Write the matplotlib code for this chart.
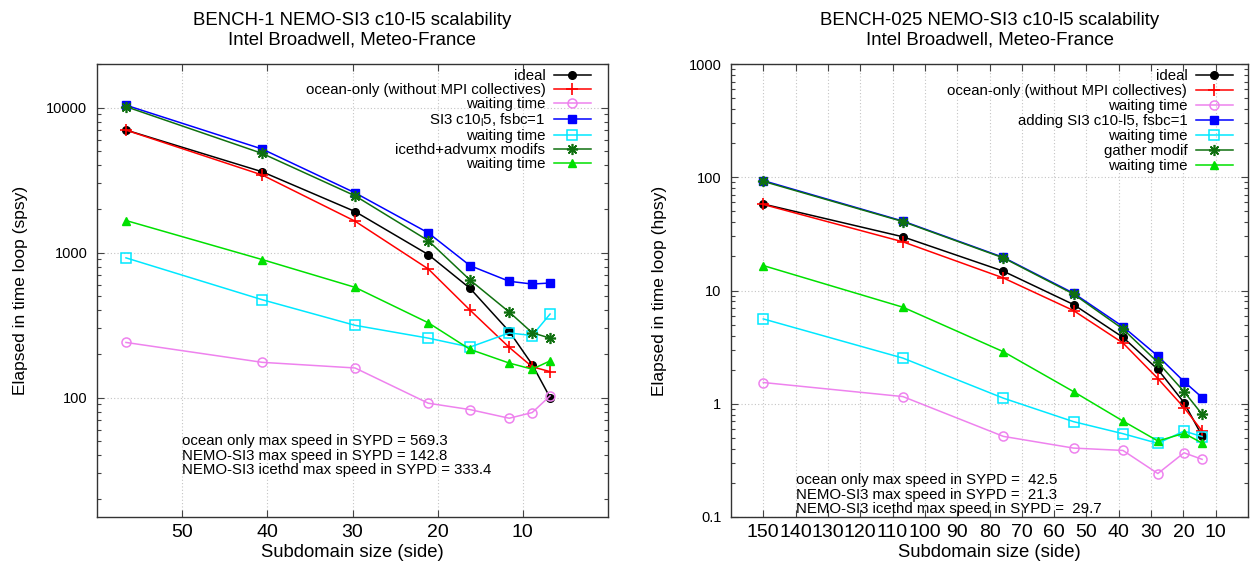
import matplotlib
matplotlib.use('Agg')
import matplotlib.pyplot as plt
from matplotlib.ticker import FixedLocator, FixedFormatter, LogLocator, NullFormatter

plt.rcParams['font.family'] = ['Liberation Sans', 'DejaVu Sans']
plt.rcParams['mathtext.fontset'] = 'custom'
plt.rcParams['mathtext.rm'] = 'Liberation Sans'

# ---------------- data: BENCH-1 (left) ----------------
b1_side = [56.6, 40.6, 29.7, 21.1, 16.2, 11.6, 8.9, 6.8]
b1_ideal = [7010, 3610, 1920, 969, 567, 286, 169, 100]
b1_ocean = [7000, 3430, 1647, 771, 401, 222, 163, 151]
b1_ocean_wait = [240, 175, 160, 91.4, 82.6, 72, 78.8, 102.7]
b1_si3 = [10400, 5180, 2585, 1368, 813, 634, 607, 617]
b1_si3_wait = [920, 473, 315, 257, 223, 279, 268, 377]
b1_icethd = [10160, 4830, 2465, 1209, 647, 389, 280, 257]
b1_icethd_wait = [1665, 895, 576, 328, 215, 173, 157, 179]
b1_labels = ["ideal", "ocean-only (without MPI collectives)", "waiting time",
             "SI3 c10$_\\mathregular{l}$5, fsbc=1", "waiting time",
             "icethd+advumx modifs", "waiting time"]
b1_xticks = [50, 40, 30, 20, 10]
b1_yticks = [100, 1000, 10000]
b1_yticklabels = ["100", "1000", "10000"]
b1_text = ["ocean only max speed in SYPD = 569.3",
           "NEMO-SI3 max speed in SYPD = 142.8",
           "NEMO-SI3 icethd max speed in SYPD = 333.4"]

# ---------------- data: BENCH-025 (right) ----------------
b025_side = [150, 106.8, 75.7, 54, 38.7, 27.9, 19.8, 14.2]
b025_ideal = [58.0, 29.8, 14.8, 7.52, 3.86, 2.01, 1.024, 0.519]
b025_ocean = [57.5, 26.9, 12.9, 6.65, 3.44, 1.67, 0.925, 0.574]
b025_ocean_wait = [1.54, 1.157, 0.515, 0.406, 0.387, 0.242, 0.369, 0.323]
b025_si3 = [93.4, 41.0, 19.6, 9.47, 4.80, 2.64, 1.57, 1.135]
b025_si3_wait = [5.61, 2.53, 1.12, 0.695, 0.544, 0.447, 0.574, 0.513]
b025_gather = [92.0, 40.6, 19.4, 9.3, 4.57, 2.32, 1.28, 0.807]
b025_gather_wait = [16.6, 7.12, 2.88, 1.28, 0.704, 0.469, 0.548, 0.45]
b025_labels = ["ideal", "ocean-only (without MPI collectives)", "waiting time",
               "adding SI3 c10-l5, fsbc=1", "waiting time",
               "gather modif", "waiting time"]
b025_xticks = [150, 140, 130, 120, 110, 100, 90, 80, 70, 60, 50, 40, 30, 20, 10]
b025_yticks = [0.1, 1, 10, 100, 1000]
b025_yticklabels = ["0.1", "1", "10", "100", "1000"]
b025_text = ["ocean only max speed in SYPD =  42.5",
             "NEMO-SI3 max speed in SYPD =  21.3",
             "NEMO-SI3 icethd max speed in SYPD =  29.7"]

# ---------------- styles ----------------
DKGREEN = '#0f700f'
LTGREEN = '#00e000'
styles = [
    dict(color='black', marker='o', ms=5.5, mfc='black', mec='black'),
    dict(color='red', marker='+', ms=8.5, mew=1.2),
    dict(color='#ee82ee', marker='o', ms=6.5, mfc='none', mew=1.1),
    dict(color='blue', marker='s', ms=5.5, mfc='blue', mec='blue'),
    dict(color='#00e8ff', marker='s', ms=6.5, mfc='none', mew=1.1),
    dict(color=DKGREEN, marker=(8, 2, 0), ms=8, mew=1.2),
    dict(color=LTGREEN, marker='^', ms=6, mfc=LTGREEN, mec=LTGREEN),
]

fig = plt.figure(figsize=(12.5, 5.62), dpi=100)
W, H = 1250.0, 562.0
ax1 = fig.add_axes([97 / W, 1 - 517 / H, (608 - 97) / W, (517 - 64) / H])
ax2 = fig.add_axes([731 / W, 1 - 517 / H, (1248 - 731) / W, (517 - 64) / H])


def setup(ax, side, series, labels, xlim, ylim, xticks, yticks, yticklabels,
          title, ylabel, texts, text_xy, ylab_x, leg_x, leg_sp):
    for ys, st, lab in zip(series, styles, labels):
        ax.plot(side, ys, lw=1.1, label=lab, **st)
    ax.set_yscale('log')
    ax.set_xlim(*xlim)
    ax.set_ylim(*ylim)
    ax.xaxis.set_major_locator(FixedLocator(xticks))
    ax.xaxis.set_major_formatter(FixedFormatter([str(v) for v in xticks]))
    ax.yaxis.set_major_locator(FixedLocator(yticks))
    ax.yaxis.set_major_formatter(FixedFormatter(yticklabels))
    ax.yaxis.set_minor_locator(LogLocator(base=10, subs=range(2, 10)))
    ax.yaxis.set_minor_formatter(NullFormatter())
    ax.grid(True, which='major', color='#c4c4c4', linestyle=(0, (1, 2)), lw=0.8)
    ax.tick_params(which='both', direction='in', top=True, right=True,
                   color='#444444', width=0.8)
    ax.tick_params(which='major', length=5)
    ax.tick_params(which='minor', length=2.8)
    ax.tick_params(axis='x', which='major', labelsize=14, pad=5)
    ax.tick_params(axis='y', which='major', labelsize=10.5, pad=7)
    for sp in ax.spines.values():
        sp.set_color('#333333')
        sp.set_linewidth(1.0)
    ax.set_title(title, fontsize=13.4, pad=14, linespacing=1.2)
    ax.set_xlabel('Subdomain size (side)', fontsize=13.3, labelpad=2)
    ax.set_ylabel(ylabel, fontsize=12.5)
    ax.yaxis.set_label_coords(ylab_x, 0.5)
    ax.text(text_xy[0], text_xy[1], "\n".join(texts), fontsize=10.8,
            ha='left', va='center', linespacing=1.05, zorder=5)
    leg = ax.legend(loc='upper right', bbox_to_anchor=(leg_x, 0.988),
                    frameon=False, markerfirst=False, fontsize=10.8,
                    handlelength=2.5, handletextpad=0.55, labelspacing=leg_sp,
                    borderpad=0, borderaxespad=0)
    return leg


setup(ax1, b1_side,
      [b1_ideal, b1_ocean, b1_ocean_wait, b1_si3, b1_si3_wait, b1_icethd, b1_icethd_wait],
      b1_labels, (60, 0), (15, 20000), b1_xticks, b1_yticks, b1_yticklabels,
      'BENCH-1 NEMO-SI3 c10-l5 scalability\nIntel Broadwell, Meteo-France',
      'Elapsed in time loop (spsy)', b1_text, (50, 39.7), -0.136, 0.967, 0.0)

setup(ax2, b025_side,
      [b025_ideal, b025_ocean, b025_ocean_wait, b025_si3, b025_si3_wait, b025_gather, b025_gather_wait],
      b025_labels, (160, 0), (0.1, 1000), b025_xticks, b025_yticks, b025_yticklabels,
      'BENCH-025 NEMO-SI3 c10-l5 scalability\nIntel Broadwell, Meteo-France',
      'Elapsed in time loop (hpsy)', b025_text, (140, 0.157), -0.1236, 0.971, 0.06)

fig.savefig('out.png', dpi=100, facecolor='white')
